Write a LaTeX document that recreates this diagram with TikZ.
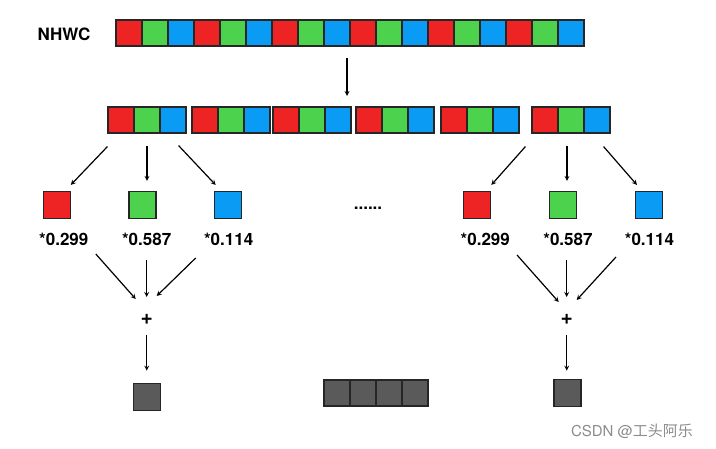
\documentclass[tikz,border=0pt]{standalone}
\usepackage{fontspec}
\setmainfont{TeX Gyre Heros}
\newfontfamily\cjkfont{Noto Sans CJK SC}
\definecolor{pixred}{HTML}{EE2424}
\definecolor{pixgreen}{HTML}{4CD24C}
\definecolor{pixblue}{HTML}{0A9CF5}
\definecolor{pixgray}{HTML}{5A5A5A}
\tikzset{
  cell/.style={draw=black!85, line width=1.1pt, minimum size=26pt, inner sep=0pt},
  chan/.style={cell, minimum size=27pt},
  lbl/.style={font=\fontsize{17}{19}\selectfont\bfseries, inner sep=0pt},
  sum/.style={font=\fontsize{21}{23}\selectfont\bfseries, inner sep=0pt},
  link/.style={->, line width=1.2pt},
}
\begin{document}
\begin{tikzpicture}[x=1pt, y=-1pt, >=stealth]
  \useasboundingbox (0,0) rectangle (716,449);
  \node[lbl] (nhwc) at (64,34) {NHWC};
  % packed input
  \foreach \k in {0,...,5}
    \foreach \c [count=\j from 0] in {pixred,pixgreen,pixblue}
      \node[cell, fill=\c] (t\k-\j) at ({116+13+78*\k+26*\j},33) {};
  \coordinate (splittop) at (347,58);
  \coordinate (splitbot) at (347,96);
  \draw[link] (splittop) -- (splitbot);
  % one group per pixel
  \foreach \gx [count=\k] in {108,192,273,356,441,532}
    \foreach \c [count=\j from 0] in {pixred,pixgreen,pixblue}
      \node[cell, fill=\c] (g\k-\j) at ({\gx+13+26*\j},120) {};
  % left pixel
  \node[chan, fill=pixred] (r1) at (56.7,205) {};
  \node[chan, fill=pixgreen] (gr1) at (142.5,205) {};
  \node[chan, fill=pixblue] (b1) at (227.7,205) {};
  \node[lbl] (l1) at (63.8,239) {*0.299};
  \node[lbl] (l2) at (146.7,239) {*0.587};
  \node[lbl] (l3) at (228.7,239) {*0.114};
  \node[sum] (p1) at (146.7,319) {+};
  \node[chan, fill=pixgray] (o1) at (146.7,396.7) {};
  \draw[link] ([yshift=-13pt]g1-0.south west) -- ([yshift=6pt]r1.north east);
  \draw[link] ([yshift=-12pt]g1-1.south) -- ([xshift=4.5pt,yshift=10pt]gr1.north);
  \draw[link] ([xshift=-8pt,yshift=-12pt]g1-2.south east) -- ([xshift=2pt,yshift=6pt]b1.north west);
  \draw[link] ([shift={(32pt,-15pt)}]l1.center) -- ([shift={(-11pt,20pt)}]p1.center);
  \draw[link] ([shift={(0pt,-21pt)}]l2.center) -- ([shift={(0pt,22pt)}]p1.center);
  \draw[link] ([shift={(-33pt,-19pt)}]l3.center) -- ([shift={(10pt,23pt)}]p1.center);
  \draw[link] ([yshift=-16pt]p1.center) -- ([yshift=12pt]o1.north);
  \node[lbl] (dots) at (368,208) {......};
  % right pixel
  \node[chan, fill=pixred] (r2) at (477.3,205) {};
  \node[chan, fill=pixgreen] (gr2) at (563.3,205) {};
  \node[chan, fill=pixblue] (b2) at (649,205) {};
  \node[lbl] (m1) at (485.3,239) {*0.299};
  \node[lbl] (m2) at (568,239) {*0.587};
  \node[lbl] (m3) at (649.5,239) {*0.114};
  \node[sum] (p2) at (566.7,319) {+};
  \node[chan, fill=pixgray] (o2) at (567.5,392.7) {};
  \draw[link] ([xshift=-6pt,yshift=-13pt]g6-0.south west) -- ([yshift=6pt]r2.north east);
  \draw[link] ([xshift=-4pt,yshift=-12pt]g6-1.south) -- ([xshift=3.7pt,yshift=10pt]gr2.north);
  \draw[link] ([xshift=-7pt,yshift=-13pt]g6-2.south east) -- ([xshift=2pt,yshift=6pt]b2.north west);
  \draw[link] ([shift={(31.7pt,-16pt)}]m1.center) -- ([shift={(-8pt,17pt)}]p2.center);
  \draw[link] ([shift={(-1.3pt,-21pt)}]m2.center) -- ([shift={(0pt,22pt)}]p2.center);
  \draw[link] ([shift={(-33.5pt,-18pt)}]m3.center) -- ([shift={(10pt,19pt)}]p2.center);
  \draw[link] ([yshift=-16pt]p2.center) -- ([xshift=-0.8pt,yshift=8pt]o2.north);
  % gray result
  \foreach \i in {0,...,3}
    \node[cell, fill=pixgray] (y\i) at ({324+13+26*\i},393) {};
  \node[text=black!45, font=\fontsize{15}{17}\selectfont, inner sep=0pt] (mark) at (632,431) {CSDN @{\cjkfont 工头阿乐}};
\end{tikzpicture}
\end{document}
